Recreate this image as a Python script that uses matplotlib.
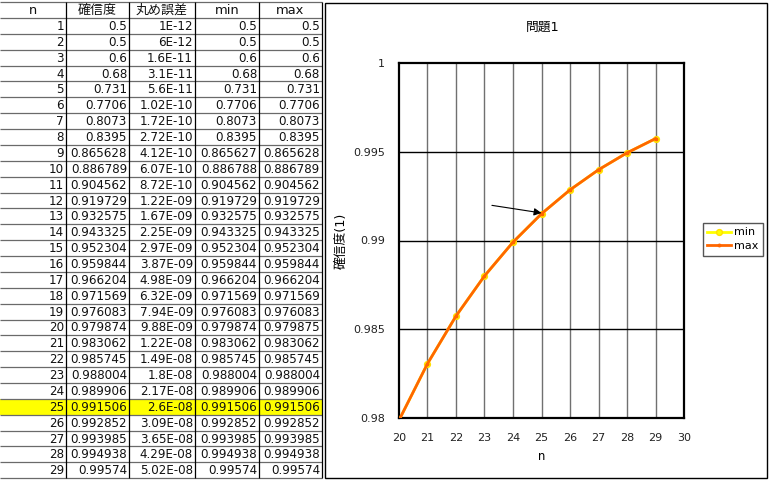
import matplotlib
matplotlib.use('Agg')
import matplotlib.pyplot as plt
from matplotlib.patches import Rectangle

plt.rcParams['font.family'] = ['DejaVu Sans', 'Noto Sans CJK JP']

# table data
headers = ['n', '確信度', '丸め誤差', 'min', 'max']
n = list(range(1, 30))
conf = [0.5, 0.5, 0.6, 0.68, 0.731, 0.7706, 0.8073, 0.8395, 0.865628, 0.886789,
        0.904562, 0.919729, 0.932575, 0.943325, 0.952304, 0.959844, 0.966204,
        0.971569, 0.976083, 0.979874, 0.983062, 0.985745, 0.988004, 0.989906,
        0.991506, 0.992852, 0.993985, 0.994938, 0.99574]
err = [1e-12, 6e-12, 1.6e-11, 3.1e-11, 5.6e-11, 1.02e-10, 1.72e-10, 2.72e-10,
       4.12e-10, 6.07e-10, 8.72e-10, 1.22e-09, 1.67e-09, 2.25e-09, 2.97e-09,
       3.87e-09, 4.98e-09, 6.32e-09, 7.94e-09, 9.88e-09, 1.22e-08, 1.49e-08,
       1.8e-08, 2.17e-08, 2.6e-08, 3.09e-08, 3.65e-08, 4.29e-08, 5.02e-08]
min_vals = [0.5, 0.5, 0.6, 0.68, 0.731, 0.7706, 0.8073, 0.8395, 0.865627, 0.886788,
            0.904562, 0.919729, 0.932575, 0.943325, 0.952304, 0.959844, 0.966204,
            0.971569, 0.976083, 0.979874, 0.983062, 0.985745, 0.988004, 0.989906,
            0.991506, 0.992852, 0.993985, 0.994938, 0.99574]
max_vals = [0.5, 0.5, 0.6, 0.68, 0.731, 0.7706, 0.8073, 0.8395, 0.865628, 0.886789,
            0.904562, 0.919729, 0.932575, 0.943325, 0.952304, 0.959844, 0.966204,
            0.971569, 0.976083, 0.979875, 0.983062, 0.985745, 0.988004, 0.989906,
            0.991506, 0.992852, 0.993985, 0.994938, 0.99574]
highlight_n = 25

# chart data
chart_title = '問題1'
chart_start = 20
series_names = ['min', 'max']
y_ticks = [0.98, 0.985, 0.99, 0.995, 1.0]
x_ticks = list(range(20, 31))


def excel_sci(v):
    mant, exp = f'{v:.2E}'.split('E')
    mant = mant.rstrip('0').rstrip('.')
    return mant + 'E' + exp


W, H = 772, 483
fig = plt.figure(figsize=(W / 100, H / 100), dpi=100)
bg = fig.add_axes([0, 0, 1, 1])
bg.set_xlim(0, W)
bg.set_ylim(H, 0)
bg.axis('off')

# 1) spreadsheet table
col_x = [0, 66, 129, 195, 259, 322]
row_h = 15.87
top = 1.5
head_bot = 18
fs = 8.6
cfs = 8.0

row_tops = [head_bot + i * row_h for i in range(len(n))]
bottom = row_tops[-1] + row_h

for i, k in enumerate(n):
    if k == highlight_n:
        bg.add_patch(Rectangle((col_x[0], row_tops[i]), col_x[-1] - col_x[0], row_h,
                               facecolor='#FFFF00', edgecolor='none', zorder=0))

bg.hlines([top, head_bot] + [t + row_h for t in row_tops], col_x[0], col_x[-1],
          color='#6a6a6a', lw=0.9)
bg.vlines(col_x[1:], top, bottom, color='black', lw=0.9)

for j, h in enumerate(headers):
    bg.text((col_x[j] + col_x[j + 1]) / 2, (top + head_bot) / 2 + 0.5, h,
            ha='center', va='center', fontsize=fs + 0.8, color='#111111')

for i in range(len(n)):
    cells = [str(n[i]), f'{conf[i]:g}', excel_sci(err[i]),
             f'{min_vals[i]:g}', f'{max_vals[i]:g}']
    yc = row_tops[i] + row_h / 2 + 0.5
    for j, c in enumerate(cells):
        bg.text(col_x[j + 1] - 2, yc, c, ha='right', va='center', fontsize=fs,
                color='#111111')

# chart area border
bg.add_patch(Rectangle((325, 3), 767 - 325, 478 - 3, facecolor='none',
                       edgecolor='black', lw=1.0))

# 2) chart
L, R, T, B = 399, 684, 63, 418
ax = fig.add_axes([L / W, 1 - B / H, (R - L) / W, (B - T) / H])

xs = [k for k in n if k >= chart_start]
y_min = [min_vals[n.index(k)] for k in xs]
y_max = [max_vals[n.index(k)] for k in xs]
marks = [i for i, v in enumerate(y_min) if v >= y_ticks[0]]

ax.plot(xs, y_min, color='#FFFF00', lw=2, marker='o', ms=4.2,
        mfc='#FFFF00', mec='#FFE000', markevery=marks, label=series_names[0], zorder=3)
ax.plot(xs, y_max, color='#FF6600', lw=2, marker='o', ms=1.8,
        markevery=marks, label=series_names[1], zorder=4)

ax.set_xlim(x_ticks[0], x_ticks[-1])
ax.set_ylim(y_ticks[0], y_ticks[-1])
ax.set_xticks(x_ticks)
ax.set_yticks(y_ticks)
ax.set_yticklabels([f'{v:g}' for v in y_ticks])
ax.tick_params(axis='x', length=0, pad=11, labelsize=cfs)
ax.tick_params(axis='y', length=0, pad=10, labelsize=cfs)
for t in ax.get_xticklabels() + ax.get_yticklabels():
    t.set_color('#222222')

for xv in x_ticks[1:-1]:
    ax.axvline(xv, color='#707070', lw=1, zorder=1)
for yv in y_ticks[1:-1]:
    ax.axhline(yv, color='black', lw=1, zorder=1)
for s in ax.spines.values():
    s.set_linewidth(1.6)
    s.set_color('black')

ax.set_xlabel('n', fontsize=cfs + 0.4, labelpad=5)
ax.set_ylabel('確信度(1)', fontsize=cfs + 1.2, labelpad=4)
fig.text(543 / W, 1 - 27 / H, chart_title, ha='center', va='center', fontsize=cfs + 1.2)

ax.annotate('', xy=(25.0, 0.99155), xytext=(23.26, 0.99198),
            arrowprops=dict(arrowstyle='-|>', color='black', lw=0.8,
                            mutation_scale=11, shrinkA=0, shrinkB=0), zorder=5)

leg = ax.legend(loc='upper left', bbox_to_anchor=(703 / W, 1 - 223 / H),
                bbox_transform=fig.transFigure, fontsize=cfs, frameon=True,
                fancybox=False, framealpha=1, edgecolor='#555555',
                handlelength=2.1, handletextpad=0.3, borderpad=0.4,
                labelspacing=0.35, borderaxespad=0)
leg.get_frame().set_linewidth(1.0)

fig.savefig('out.png', dpi=100)
